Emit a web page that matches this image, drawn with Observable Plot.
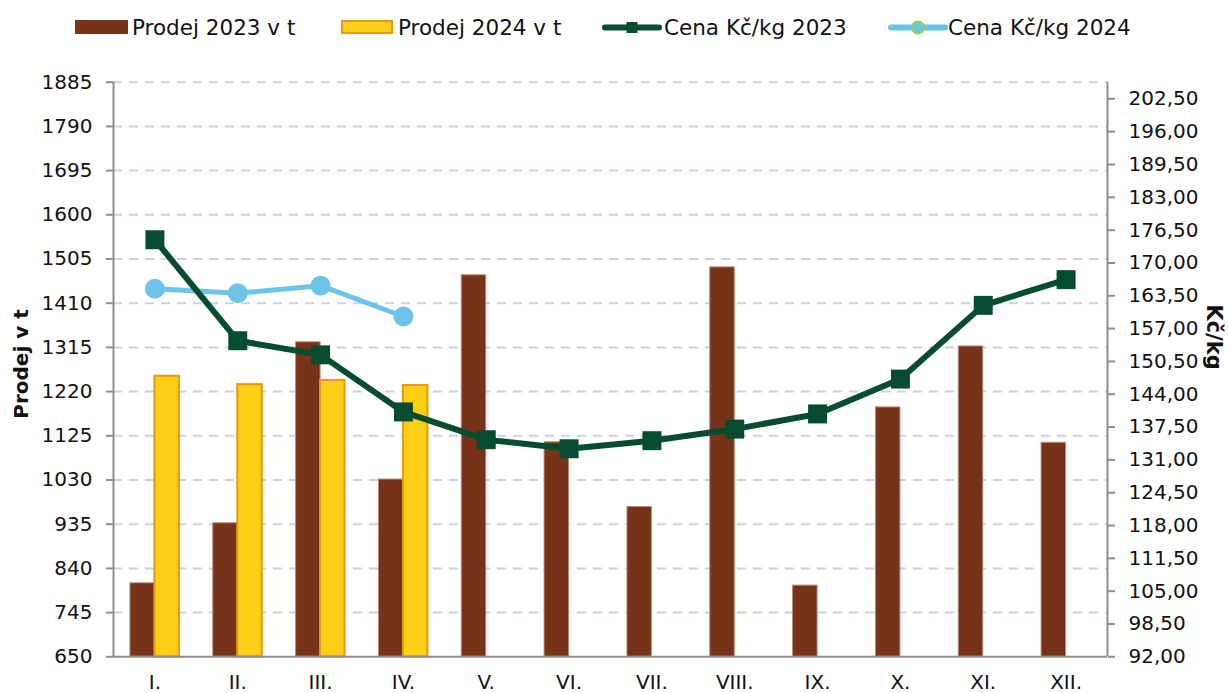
<!DOCTYPE html>
<html>
<head>
<meta charset="utf-8">
<script src="https://cdn.jsdelivr.net/npm/d3@7"></script>
<script src="https://cdn.jsdelivr.net/npm/@observablehq/plot@0.6"></script>
<style>
  body { margin: 0; background: #fff; font-family: "DejaVu Sans", Verdana, sans-serif; }
  #legend { position: relative; width: 1228px; height: 50px; font-size: 21.5px; color: #111; }
  #legend .txt { position: absolute; top: 16px; line-height: 24px; white-space: nowrap; }
  #legend .sw { position: absolute; box-sizing: border-box; }
  #legend svg { position: absolute; top: 0; }
  #chart svg { display: block; }
</style>
</head>
<body>
<div id="legend"></div>
<div id="chart"></div>
<script>
// ---- data ----
const months = ["I.", "II.", "III.", "IV.", "V.", "VI.", "VII.", "VIII.", "IX.", "X.", "XI.", "XII."];
const seriesNames = ["Prodej 2023 v t", "Prodej 2024 v t", "Cena Kč/kg 2023", "Cena Kč/kg 2024"];
const sales2023 = [808, 937, 1326, 1031, 1470, 1111, 972, 1487, 803, 1186, 1317, 1110];
const sales2024 = [1253, 1235, 1244, 1233];
const price2023 = [174.6, 154.6, 151.8, 140.5, 135.0, 133.2, 134.8, 137.1, 140.1, 147.0, 161.6, 166.7];
const price2024 = [164.9, 164.0, 165.5, 159.4];
const leftTicks = [650, 745, 840, 935, 1030, 1125, 1220, 1315, 1410, 1505, 1600, 1695, 1790, 1885];
const rightTicks = [92, 98.5, 105, 111.5, 118, 124.5, 131, 137.5, 144, 150.5, 157, 163.5, 170, 176.5, 183, 189.5, 196, 202.5];
const leftDomain = [650, 1885];
const rightDomain = [92, 205.8];
const leftTitle = "Prodej v t";
const rightTitle = "Kč/kg";

// ---- colors ----
const cBrown = "#77321A", cYellow = "#FDD017", cYellowEdge = "#E8980F";
const cGreen = "#064D2F", cBlue = "#6EC4E8", cLime = "#92D050";

// price -> left scale mapping
const toLeft = p => leftDomain[0] + (p - rightDomain[0]) * (leftDomain[1] - leftDomain[0]) / (rightDomain[1] - rightDomain[0]);
const fromLeft = v => rightDomain[0] + (v - leftDomain[0]) * (rightDomain[1] - rightDomain[0]) / (leftDomain[1] - leftDomain[0]);
const fmt = v => v.toFixed(2).replace(".", ",");

const d23 = months.map((m, i) => ({month: m, value: sales2023[i]}));
const d24 = sales2024.map((v, i) => ({month: months[i], value: v}));
const p23 = months.map((m, i) => ({month: m, value: price2023[i]}));
const p24 = price2024.map((v, i) => ({month: months[i], value: v}));

// ---- layout ----
const W = 1228, H = 643;
const mL = 113, mR = 121, mT = 31.7, mB = 36.7;
const half = (W - mL - mR) / months.length / 2;
const barW = 24.5;

const chart = Plot.plot({
  width: W, height: H,
  marginLeft: mL, marginRight: mR, marginTop: mT, marginBottom: mB,
  style: {fontFamily: '"DejaVu Sans", Verdana, sans-serif', fontSize: "20px", color: "#111", background: "#fff", overflow: "visible"},
  x: {type: "band", domain: months, padding: 0, round: false},
  y: {domain: leftDomain},
  marks: [
    Plot.gridY(leftTicks.slice(1), {stroke: "#C6D1EB", strokeOpacity: 1, strokeWidth: 2, strokeDasharray: "9,7"}),
    Plot.barY(d23, {x: "month", y1: leftDomain[0], y2: "value", fill: cBrown, stroke: "#B98A78", strokeWidth: 1, insetLeft: half - barW, insetRight: half}),
    Plot.barY(d24, {x: "month", y1: leftDomain[0], y2: "value", fill: cYellow, stroke: cYellowEdge, strokeWidth: 2, insetLeft: half, insetRight: half - barW}),
    Plot.ruleY([leftDomain[0]], {stroke: "#8E8E8E", strokeWidth: 2}),
    Plot.ruleX([months[0]], {y1: leftDomain[0], y2: leftDomain[1], dx: -half, stroke: "#8E8E8E", strokeWidth: 2}),
    Plot.ruleX([months[months.length - 1]], {y1: leftDomain[0], y2: leftDomain[1], dx: half, stroke: "#8E8E8E", strokeWidth: 2}),
    Plot.line(p24, {x: "month", y: d => toLeft(d.value), stroke: cBlue, strokeWidth: 5}),
    Plot.dot(p24, {x: "month", y: d => toLeft(d.value), r: 10, fill: cBlue}),
    Plot.line(p23, {x: "month", y: d => toLeft(d.value), stroke: cGreen, strokeWidth: 6}),
    Plot.dot(p23, {x: "month", y: d => toLeft(d.value), symbol: "square", r: 10.7, fill: cGreen}),
    Plot.axisY(leftTicks, {anchor: "left", tickSize: 7, tickPadding: 14, label: null, tickFormat: d => String(d), stroke: "#8E8E8E", strokeWidth: 2, fill: "#111"}),
    Plot.axisY(rightTicks.map(toLeft), {anchor: "right", tickSize: 7, tickPadding: 14, label: null, tickFormat: v => fmt(fromLeft(v)), stroke: "#8E8E8E", strokeWidth: 2, fill: "#111"}),
    Plot.axisX({anchor: "bottom", tickSize: 0, tickPadding: 18, label: null, fill: "#111"})
  ]
});

// axis titles
const svg = d3.select(chart);
svg.append("text")
  .attr("transform", `translate(21, ${364 - 50}) rotate(-90)`)
  .attr("text-anchor", "middle").attr("dominant-baseline", "central")
  .attr("font-weight", "bold").attr("font-size", 20).attr("fill", "#111")
  .text(leftTitle);
svg.append("text")
  .attr("transform", `translate(1214, ${337 - 50}) rotate(90)`)
  .attr("text-anchor", "middle").attr("dominant-baseline", "central")
  .attr("font-weight", "bold").attr("font-size", 21).attr("fill", "#111")
  .text(rightTitle);

document.getElementById("chart").appendChild(chart);

// ---- legend ----
const lg = d3.select("#legend");
lg.append("div").attr("class", "sw").style("left", "75px").style("top", "20px").style("width", "53px").style("height", "14px").style("background", cBrown);
lg.append("div").attr("class", "txt").style("left", "132px").text(seriesNames[0]);
lg.append("div").attr("class", "sw").style("left", "341px").style("top", "20px").style("width", "52px").style("height", "14px").style("background", cYellow).style("border", `2px solid ${cYellowEdge}`);
lg.append("div").attr("class", "txt").style("left", "398px").text(seriesNames[1]);
const s3 = lg.append("svg").style("left", "600px").attr("width", 64).attr("height", 50);
s3.append("line").attr("x1", 5).attr("x2", 59).attr("y1", 27.5).attr("y2", 27.5).attr("stroke", cGreen).attr("stroke-width", 6).attr("stroke-linecap", "round");
s3.append("rect").attr("x", 26.5).attr("y", 22).attr("width", 11).attr("height", 11).attr("fill", cGreen);
lg.append("div").attr("class", "txt").style("left", "664px").text(seriesNames[2]);
const s4 = lg.append("svg").style("left", "886px").attr("width", 64).attr("height", 50);
s4.append("line").attr("x1", 5).attr("x2", 59).attr("y1", 27.5).attr("y2", 27.5).attr("stroke", cBlue).attr("stroke-width", 6).attr("stroke-linecap", "round");
s4.append("circle").attr("cx", 32).attr("cy", 27.5).attr("r", 6).attr("fill", cBlue).attr("stroke", cLime).attr("stroke-width", 2);
lg.append("div").attr("class", "txt").style("left", "948px").text(seriesNames[3]);
</script>
</body>
</html>
